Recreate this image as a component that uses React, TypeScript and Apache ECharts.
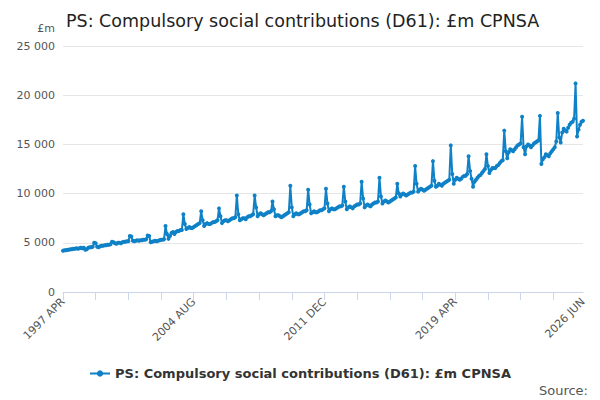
import { useEffect, useRef } from 'react';
import * as echarts from 'echarts';

const MONTHS = ['JAN', 'FEB', 'MAR', 'APR', 'MAY', 'JUN', 'JUL', 'AUG', 'SEP', 'OCT', 'NOV', 'DEC'];
const SERIES_NAME = 'PS: Compulsory social contributions (D61): £m CPNSA';

// monthly values, £m, Jan..Dec (1997 from APR, 2026 to JUN)
const y1997 = [4200, 4250, 4250, 4300, 4300, 4350, 4350, 4400, 4400];
const y1998 = [4450, 4400, 4450, 4500, 4450, 4500, 4300, 4350, 4500, 4550, 4550, 4600];
const y1999 = [5000, 4950, 4600, 4550, 4650, 4700, 4700, 4750, 4750, 4800, 4800, 4850];
const y2000 = [5100, 5050, 4950, 4900, 5000, 5000, 4950, 5050, 5100, 5100, 5150, 5150];
const y2001 = [5700, 5650, 5200, 5150, 5200, 5250, 5200, 5250, 5250, 5300, 5300, 5350];
const y2002 = [5750, 5700, 5050, 5100, 5150, 5200, 5150, 5200, 5250, 5300, 5300, 5350];
const y2003 = [6700, 5900, 5400, 5700, 6000, 6100, 5900, 6100, 6200, 6200, 6300, 6300];
const y2004 = [7900, 6900, 6400, 6500, 6600, 6500, 6500, 6600, 6700, 6800, 6900, 7000];
const y2005 = [8200, 7300, 6700, 6900, 7000, 6900, 6900, 7000, 7100, 7100, 7200, 7300];
const y2006 = [8500, 7700, 7000, 7200, 7300, 7300, 7200, 7300, 7400, 7500, 7500, 7600];
const y2007 = [9800, 7900, 7300, 7400, 7500, 7500, 7400, 7600, 7700, 7700, 7800, 7900];
const y2008 = [9800, 8600, 7700, 7900, 8000, 7900, 7800, 7900, 8000, 8100, 8100, 8200];
const y2009 = [9200, 8400, 7700, 7800, 7800, 7700, 7600, 7700, 7800, 7900, 8000, 8100];
const y2010 = [10800, 8600, 7700, 7900, 8000, 7900, 7900, 8000, 8100, 8200, 8200, 8300];
const y2011 = [10400, 8900, 8000, 8100, 8200, 8100, 8100, 8200, 8300, 8300, 8400, 8500];
const y2012 = [10500, 9000, 8200, 8400, 8500, 8400, 8400, 8500, 8600, 8700, 8700, 8800];
const y2013 = [10700, 9200, 8400, 8600, 8700, 8600, 8500, 8700, 8800, 8900, 8900, 9000];
const y2014 = [11200, 9500, 8600, 8800, 8900, 8800, 8700, 8900, 9000, 9100, 9100, 9200];
const y2015 = [11600, 9700, 9000, 9200, 9300, 9200, 9100, 9200, 9300, 9400, 9500, 9600];
const y2016 = [11000, 10000, 9700, 9900, 10000, 9900, 9800, 9900, 10000, 10100, 10100, 10200];
const y2017 = [12800, 11000, 10200, 10400, 10500, 10400, 10300, 10400, 10500, 10600, 10700, 10800];
const y2018 = [13300, 11300, 10700, 10800, 11000, 10900, 10800, 11000, 11100, 11200, 11300, 11400];
const y2019 = [14900, 12000, 11000, 11400, 11600, 11500, 11400, 11500, 11700, 11800, 11800, 12000];
const y2020 = [13800, 12300, 11500, 10700, 11200, 11400, 11600, 11800, 11900, 12100, 12300, 12500];
const y2021 = [14000, 12800, 12100, 12400, 12600, 12600, 12600, 12800, 12900, 13100, 13300, 13400];
const y2022 = [16400, 14300, 13600, 14200, 14500, 14400, 14300, 14500, 14700, 14900, 15000, 15100];
const y2023 = [17800, 14700, 14000, 14800, 15000, 14900, 14700, 14900, 15100, 15200, 15300, 15400];
const y2024 = [17900, 13000, 13500, 13700, 14000, 13900, 13800, 14100, 14300, 14500, 14700, 15300];
const y2025 = [18200, 15700, 15200, 16200, 16600, 16400, 16300, 16700, 17000, 17200, 17300, 17600];
const y2026 = [21200, 15800, 16500, 17000, 17300, 17400];

const years: [number, number[]][] = [
  [1997, y1997], [1998, y1998], [1999, y1999], [2000, y2000], [2001, y2001], [2002, y2002],
  [2003, y2003], [2004, y2004], [2005, y2005], [2006, y2006], [2007, y2007], [2008, y2008],
  [2009, y2009], [2010, y2010], [2011, y2011], [2012, y2012], [2013, y2013], [2014, y2014],
  [2015, y2015], [2016, y2016], [2017, y2017], [2018, y2018], [2019, y2019], [2020, y2020],
  [2021, y2021], [2022, y2022], [2023, y2023], [2024, y2024], [2025, y2025], [2026, y2026],
];

const categories: string[] = [];
const values: number[] = [];
years.forEach(([yr, arr]) => {
  const start = yr === 1997 ? 3 : 0;
  arr.forEach((v, i) => {
    categories.push(`${yr} ${MONTHS[start + i]}`);
    values.push(v);
  });
});
const LABELS = ['1997 APR', '2004 AUG', '2011 DEC', '2019 APR', '2026 JUN'];

const fmt = (v: number) => (v >= 1000 ? `${Math.floor(v / 1000)} ${String(v % 1000).padStart(3, '0')}` : String(v));

export default function App() {
  const ref = useRef<HTMLDivElement | null>(null);
  useEffect(() => {
    if (!ref.current) return;
    const chart = echarts.init(ref.current, null, { renderer: 'svg' });
    const font = 'DejaVu Sans';
    chart.setOption({
      animation: false,
      textStyle: { fontFamily: font },
      title: {
        text: 'PS: Compulsory social contributions (D61): £m CPNSA',
        left: 61, top: 7,
        textStyle: { fontSize: 17.5, fontWeight: 'normal', color: '#222', fontFamily: font },
      },
      graphic: [
        { type: 'text', right: 12, bottom: 3, style: { text: 'Source:', fill: '#555', font: `13px "${font}"` } },
      ],
      legend: {
        bottom: 15, left: 'center',
        itemWidth: 20, itemHeight: 8,
        textStyle: { fontSize: 13, fontWeight: 'bold', color: '#333' },
        data: [SERIES_NAME],
      },
      grid: { left: 63, right: 17, top: 46, bottom: 108 },
      xAxis: {
        type: 'category', data: categories, boundaryGap: false,
        axisLine: { lineStyle: { color: '#ccd6eb' } },
        axisTick: { interval: 21, lineStyle: { color: '#ccd6eb' }, length: 8 },
        axisLabel: {
          interval: (_i: number, v: string) => LABELS.includes(v),
          rotate: 45, color: '#555', fontSize: 11, margin: 8,
        },
      },
      yAxis: {
        type: 'value', min: 0, max: 25000, interval: 5000,
        name: '£m', nameLocation: 'end', nameGap: 12,
        nameTextStyle: { color: '#555', fontSize: 11, align: 'right', padding: [0, 8, 0, 0] },
        axisLabel: { color: '#555', fontSize: 11, formatter: fmt },
        splitLine: { lineStyle: { color: '#e6e6e6' } },
      },
      series: [{
        name: SERIES_NAME, type: 'line', data: values,
        symbol: 'circle', symbolSize: 4, showSymbol: true, showAllSymbol: true,
        lineStyle: { color: '#0f81c7', width: 2 },
        itemStyle: { color: '#0f81c7' },
      }],
    });
    return () => chart.dispose();
  }, []);
  return <div ref={ref} style={{ position: 'absolute', left: 0, top: 0, width: 600, height: 400 }} />;
}
